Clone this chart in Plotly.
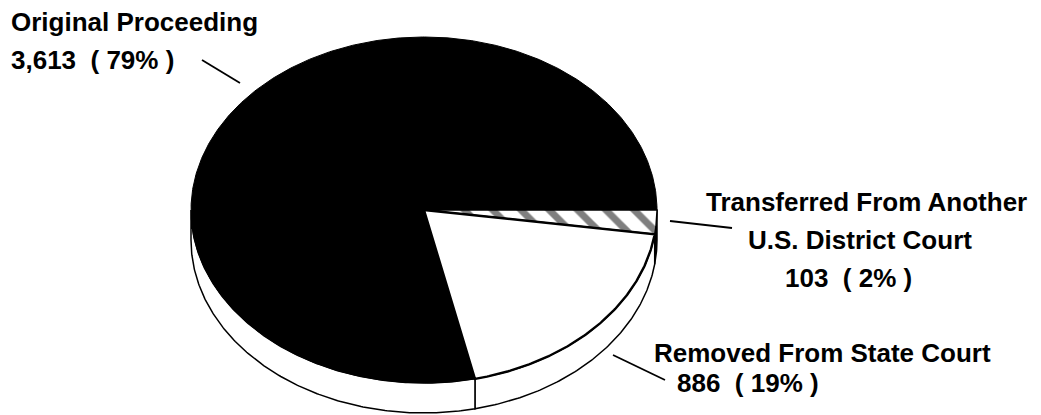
import numpy as np
import plotly.graph_objects as go

# slices listed clockwise, starting at 3 o'clock
categories = [
    "Transferred From Another<br>U.S. District Court",
    "Removed From State Court",
    "Original Proceeding",
]
cases = [103, 886, 3613]

W, H = 1041, 415
CX, CY = 424, 210      # centre of the top face (px)
RX, RY = 233, 173      # radii of the top face
DEPTH = 30             # thickness of the disc

FONT = dict(family="Liberation Sans, Arial, sans-serif", size=26,
            color="black", weight="bold")

total = sum(cases)
pcts = [round(v / total * 100) for v in cases]
edges = np.concatenate([[0], np.cumsum(cases) / total * 360])


def arc(t0, t1, dy=0.0):
    n = max(int(abs(t1 - t0)) * 2, 8)
    t = np.radians(np.linspace(t0, t1, n))
    return CX + RX * np.cos(t), CY + RY * np.sin(t) + dy


fig = go.Figure()

# side wall, only the front half (0..180 deg) is visible
side_fill = ["black", "white", "white"]
for i in range(len(cases)):
    s0, s1 = max(edges[i], 0), min(edges[i + 1], 180)
    if s1 <= s0:
        continue
    xt, yt = arc(s0, s1)
    xb, yb = arc(s1, s0, DEPTH)
    fig.add_trace(go.Scatter(
        x=np.concatenate([xt, xb, xt[:1]]),
        y=np.concatenate([yt, yb, yt[:1]]),
        mode="lines", fill="toself", fillcolor=side_fill[i],
        line=dict(color="black", width=1.5), hoverinfo="skip",
    ))

# top faces: Original (black), Transferred (hatched), Removed (white)
for i in [2, 0, 1]:
    xa, ya = arc(edges[i], edges[i + 1])
    x = np.concatenate([[CX], xa, [CX]])
    y = np.concatenate([[CY], ya, [CY]])
    if i == 2:
        tr = go.Scatter(x=x, y=y, fill="toself", fillcolor="black",
                        line=dict(color="black", width=1))
    elif i == 0:
        tr = go.Scatter(x=x, y=y, fill="toself",
                        fillpattern=dict(shape="\\", size=20, solidity=0.35,
                                         fgcolor="black", bgcolor="white"),
                        line=dict(color="black", width=1.5))
    else:
        tr = go.Scatter(x=x, y=y, fill="toself", fillcolor="white",
                        line=dict(color="black", width=2.4))
    tr.update(mode="lines", hoverinfo="skip")
    fig.add_trace(tr)

# labels, one annotation per line so the line spacing can follow the scan
label_lines = []
for name, v, p in zip(categories, cases, pcts):
    label_lines.append(name.split("<br>") + [f"{v:,}\u00a0\u00a0(\u00a0{p}%\u00a0)"])

placements = [
    # (x, y-centre of each line, anchor)
    ([866, 860, 848], [202, 240, 278], "center"),
    ([652, 675], [353, 383], "left"),
    ([9, 9], [22, 60], "left"),
]
for lines, (xs, ys, anchor) in zip(label_lines, placements):
    for txt, x, y in zip(lines, xs, ys):
        fig.add_annotation(x=x, y=y, text=txt, showarrow=False,
                           xanchor=anchor, yanchor="middle", font=FONT)

# leader lines
for x0, y0, x1, y1 in [(202, 60, 240, 83), (670, 221, 732, 228), (613, 355, 665, 380)]:
    fig.add_shape(type="line", x0=x0, y0=y0, x1=x1, y1=y1,
                  line=dict(color="black", width=1.8))

fig.update_layout(
    width=W, height=H,
    margin=dict(l=0, r=0, t=0, b=0),
    showlegend=False,
    paper_bgcolor="white", plot_bgcolor="white",
    xaxis=dict(range=[0, W], visible=False, fixedrange=True),
    yaxis=dict(range=[H, 0], visible=False, fixedrange=True),
)

fig.write_html("out.html", config={"displayModeBar": False},
               post_script="document.body.style.margin='0';")
